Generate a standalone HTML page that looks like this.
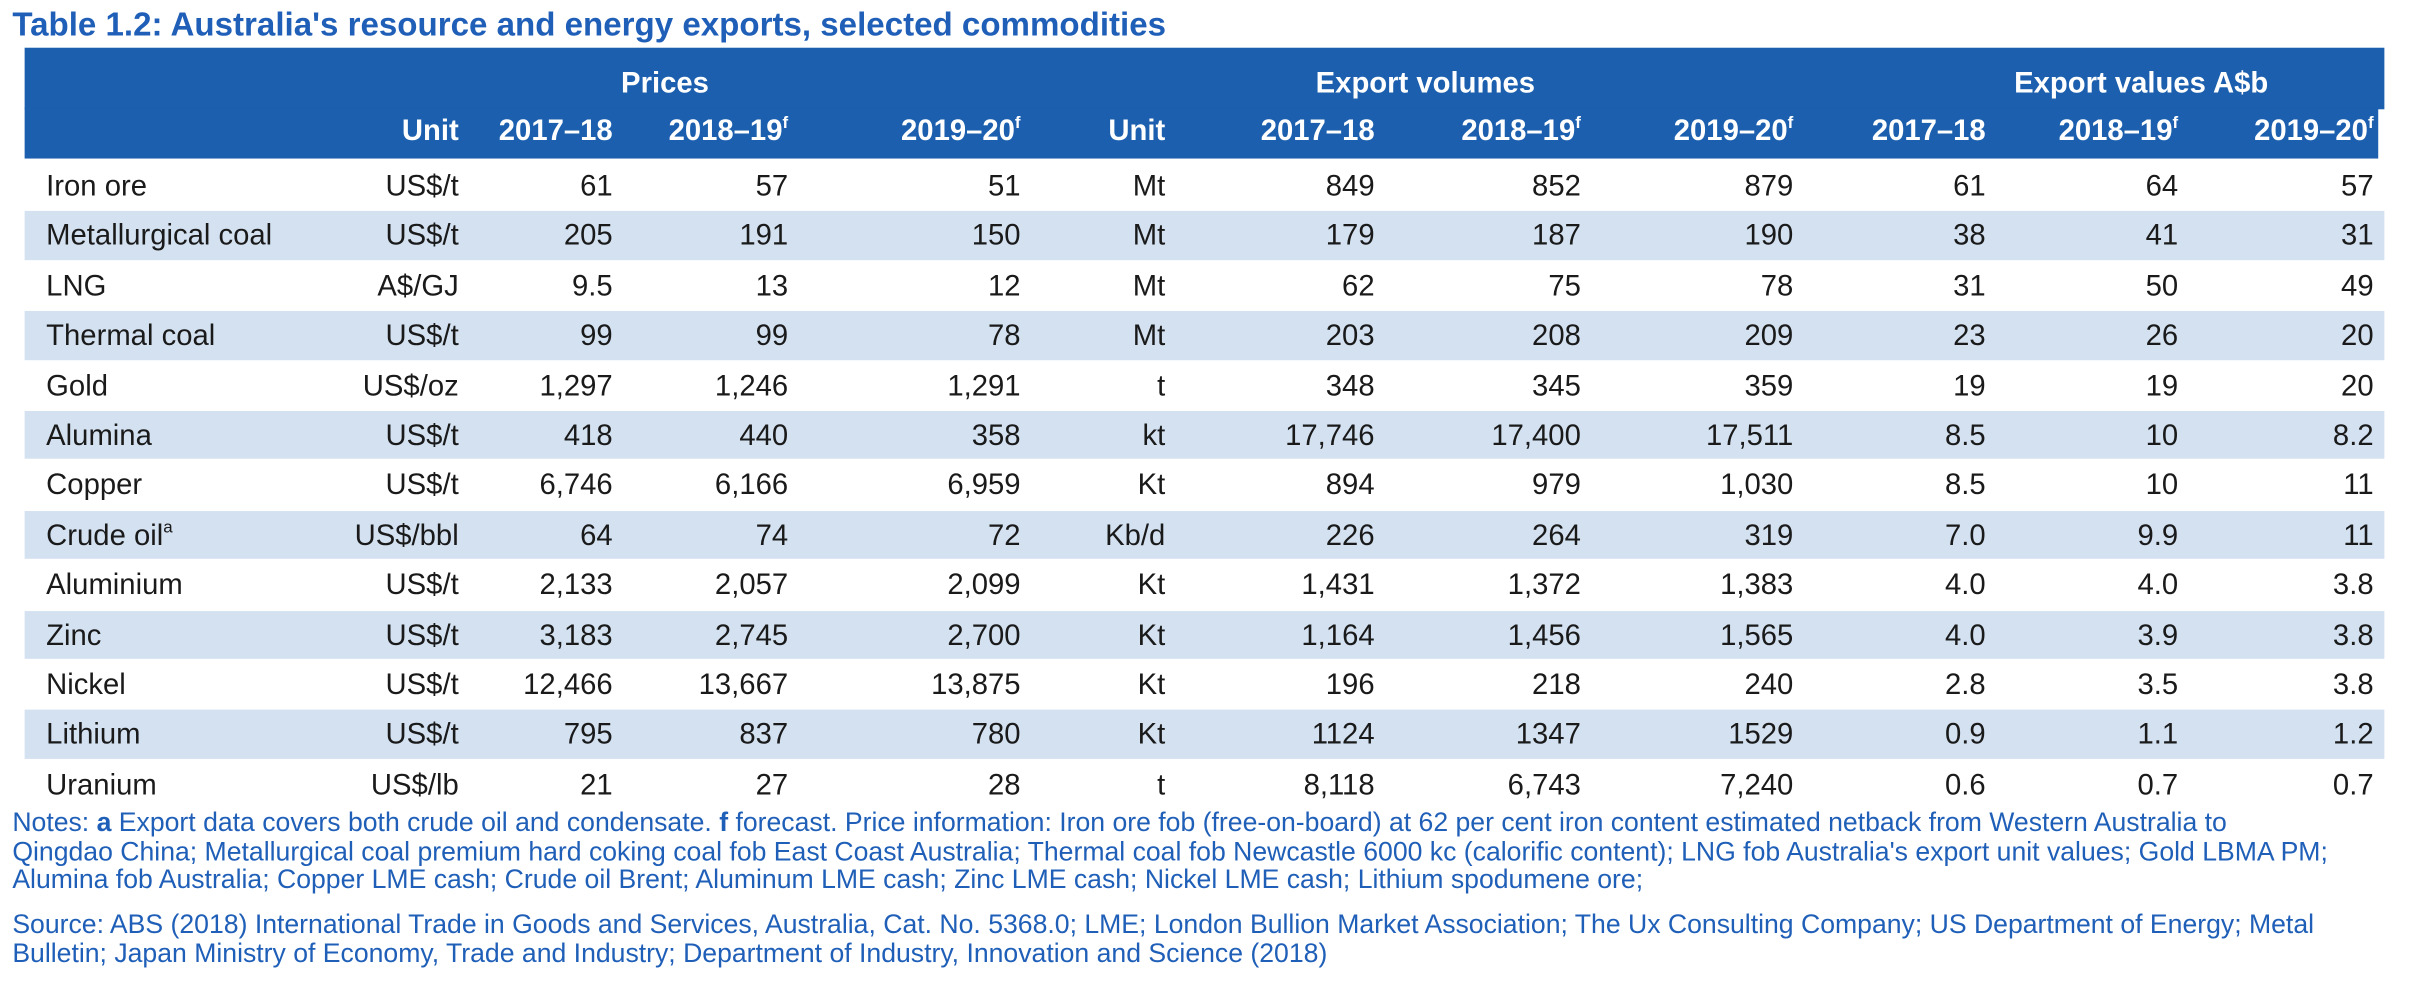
<!DOCTYPE html>
<html><head><meta charset="utf-8"><style>
html,body{margin:0;padding:0;background:#fff;width:2412px;height:996px;overflow:hidden}
#w{position:absolute;left:0;top:0;width:1567px;height:647px;transform:scale(1.5393);transform-origin:0 0;font-family:"Liberation Sans",Arial,sans-serif}
.t{position:absolute;white-space:nowrap}
.r{text-align:right}
.c{text-align:center}
.h{color:#fff;font-weight:bold;font-size:19px}
.d{color:#1a1a1a;font-size:19px}
.n{color:#1f5fb8;font-size:17.3px;line-height:18.5px}
sup{font-size:11px;vertical-align:top;line-height:11px;position:relative;top:0}
</style></head><body>
<div id="w">
<div class="t" style="left:8px;top:4px;font-size:21.5px;font-weight:bold;color:#1f5fb8">Table 1.2: Australia's resource and energy exports, selected commodities</div>
<div style="position:absolute;left:16px;top:31px;width:1533px;height:40px;background:#1b5fae"></div>
<div style="position:absolute;left:16px;top:70px;width:1529px;height:33px;background:#1b5fae"></div>
<div class="t h c" style="left:332px;width:200px;top:44px">Prices</div>
<div class="t h c" style="left:826px;width:200px;top:44px">Export volumes</div>
<div class="t h c" style="left:1291px;width:200px;top:44px">Export values A$b</div>
<div class="t n" style="left:8px;top:525px">Notes: <b>a</b> Export data covers both crude oil and condensate. <b>f</b> forecast. Price information: Iron ore fob (free-on-board) at 62 per cent iron content estimated netback from Western Australia to<br>Qingdao China; Metallurgical coal premium hard coking coal fob East Coast Australia; Thermal coal fob Newcastle 6000 kc (calorific content); LNG fob Australia's export unit values; Gold LBMA PM;<br>Alumina fob Australia; Copper LME cash; Crude oil Brent; Aluminum LME cash; Zinc LME cash; Nickel LME cash; Lithium spodumene ore;</div>
<div class="t n" style="left:8px;top:591px">Source: ABS (2018) International Trade in Goods and Services, Australia, Cat. No. 5368.0; LME; London Bullion Market Association; The Ux Consulting Company; US Department of Energy; Metal<br>Bulletin; Japan Ministry of Economy, Trade and Industry; Department of Industry, Innovation and Science (2018)</div>
</div>
<script>
const colHeaders=["Unit","2017–18","2018–19<sup>f</sup>","2019–20<sup>f</sup>","Unit","2017–18","2018–19<sup>f</sup>","2019–20<sup>f</sup>","2017–18","2018–19<sup>f</sup>","2019–20<sup>f</sup>"];
const commodities=["Iron ore","Metallurgical coal","LNG","Thermal coal","Gold","Alumina","Copper","Crude oil<sup>a</sup>","Aluminium","Zinc","Nickel","Lithium","Uranium"];
const priceUnits=["US$/t","US$/t","A$/GJ","US$/t","US$/oz","US$/t","US$/t","US$/bbl","US$/t","US$/t","US$/t","US$/t","US$/lb"];
const prices=[["61","57","51"],["205","191","150"],["9.5","13","12"],["99","99","78"],["1,297","1,246","1,291"],["418","440","358"],["6,746","6,166","6,959"],["64","74","72"],["2,133","2,057","2,099"],["3,183","2,745","2,700"],["12,466","13,667","13,875"],["795","837","780"],["21","27","28"]];
const volUnits=["Mt","Mt","Mt","Mt","t","kt","Kt","Kb/d","Kt","Kt","Kt","Kt","t"];
const volumes=[["849","852","879"],["179","187","190"],["62","75","78"],["203","208","209"],["348","345","359"],["17,746","17,400","17,511"],["894","979","1,030"],["226","264","319"],["1,431","1,372","1,383"],["1,164","1,456","1,565"],["196","218","240"],["1124","1347","1529"],["8,118","6,743","7,240"]];
const values=[["61","64","57"],["38","41","31"],["31","50","49"],["23","26","20"],["19","19","20"],["8.5","10","8.2"],["8.5","10","11"],["7.0","9.9","11"],["4.0","4.0","3.8"],["4.0","3.9","3.8"],["2.8","3.5","3.8"],["0.9","1.1","1.2"],["0.6","0.7","0.7"]];
const colRight=[298,398,512,663,757,893,1027,1165,1290,1415,1542];
const rowTop=104, rowH=32.4;
const W=document.getElementById('w');
function txt(cls,html,right,top,name){
  const d=document.createElement('div');
  d.className='t r '+cls;
  d.innerHTML=html;
  d.style.right=(1567-right)+'px';
  d.style.top=top+'px';
  
  
  W.appendChild(d);
}
colHeaders.forEach((h,i)=>txt('h',h,colRight[i],75,'column-header-'+i));
commodities.forEach((c,r)=>{
  const y=rowTop+r*rowH;
  if(r%2===1){
    const b=document.createElement('div');
    b.style.cssText='position:absolute;left:16px;width:1533px;top:'+(y+1)+'px;height:'+(rowH-1)+'px;background:#d3e1f1';
    
    
    W.appendChild(b);
  }
  const n=document.createElement('div');
  n.className='t d';
  n.innerHTML=c;
  n.style.left='30px';n.style.top=(y+7)+'px';
  
  
  W.appendChild(n);
  const cells=[priceUnits[r],...prices[r],volUnits[r],...volumes[r],...values[r]];
  cells.forEach((v,i)=>txt('d',v,colRight[i],y+7,'cell'));
});
</script>
</body></html>
